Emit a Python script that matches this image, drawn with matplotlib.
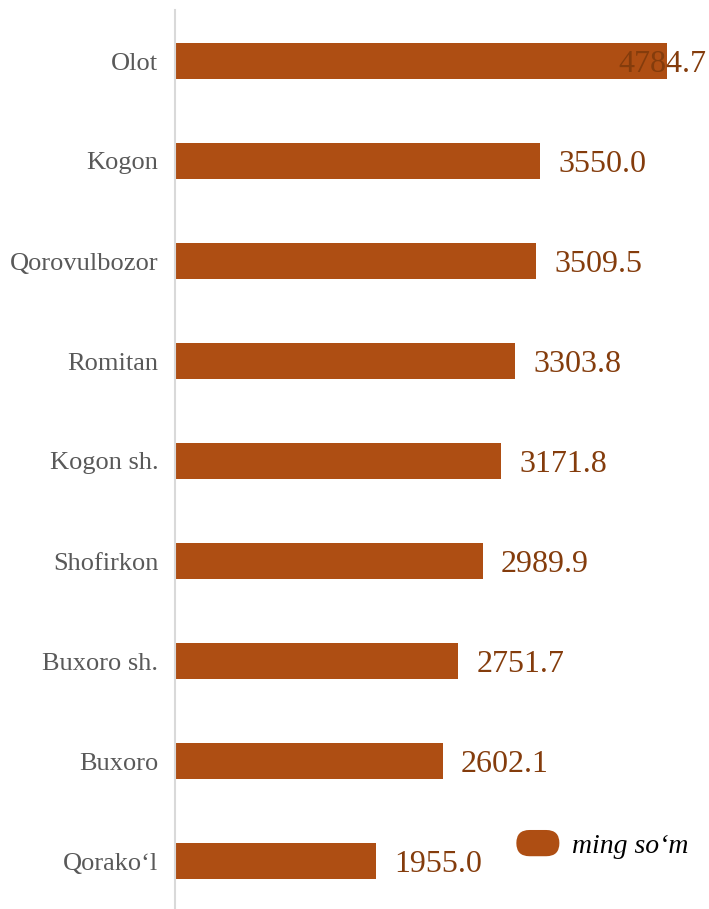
import matplotlib.pyplot as plt
from matplotlib.legend_handler import HandlerPatch
from matplotlib.patches import FancyBboxPatch, Patch

plt.rcParams['font.family'] = ['Liberation Serif', 'DejaVu Serif']

districts = ['Olot', 'Kogon', 'Qorovulbozor', 'Romitan', 'Kogon sh.',
             'Shofirkon', 'Buxoro sh.', 'Buxoro', 'Qorako\u02bbl']
values = [4784.7, 3550.0, 3509.5, 3303.8, 3171.8, 2989.9, 2751.7, 2602.1, 1955.0]
legend_label = 'ming so\u2018m'

bar_color = '#AE4E13'
value_color = '#843C0C'


class RoundHandler(HandlerPatch):
    def create_artists(self, legend, orig_handle, xdescent, ydescent,
                       width, height, fontsize, trans):
        h = height * 1.35
        p = FancyBboxPatch((-xdescent, -ydescent - (h - height) / 2), width, h,
                           boxstyle='round,pad=0,rounding_size=%f' % (h * 0.5),
                           facecolor=bar_color, edgecolor='none', transform=trans)
        return [p]


fig = plt.figure(figsize=(7.09, 9.09), dpi=100)
ax = fig.add_axes([175 / 709, 0, 534 / 709, 899 / 909])

ypos = list(range(len(districts)))
ax.barh(ypos, values, height=0.36, color=bar_color)
ax.set_xlim(0, 5190)
ax.set_ylim(8.48, -0.51)

xmax = ax.get_xlim()[1]
for y, v in zip(ypos, values):
    if v > 0.9 * xmax:
        ax.annotate(f'{v:.1f}', (xmax, y), xytext=(-2, 0), textcoords='offset points',
                    ha='right', va='center_baseline', fontsize=23, color=value_color)
    else:
        ax.annotate(f'{v:.1f}', (v, y), xytext=(13, 0), textcoords='offset points',
                    ha='left', va='center_baseline', fontsize=23, color=value_color)

ax.set_yticks(ypos)
ax.set_yticklabels(districts, fontsize=19, color='#595959')
ax.tick_params(axis='y', length=0, pad=12)
ax.set_xticks([])
for s in ['top', 'right', 'bottom']:
    ax.spines[s].set_visible(False)
ax.spines['left'].set_color('#D9D9D9')
ax.spines['left'].set_linewidth(1.5)

leg = ax.legend([Patch()], [legend_label], handler_map={Patch: RoundHandler()},
                loc='lower right', bbox_to_anchor=(1.008, 0.028), frameon=False,
                prop={'style': 'italic', 'size': 20}, handlelength=1.55,
                handletextpad=0.45)

fig.savefig('out.png', dpi=100)
